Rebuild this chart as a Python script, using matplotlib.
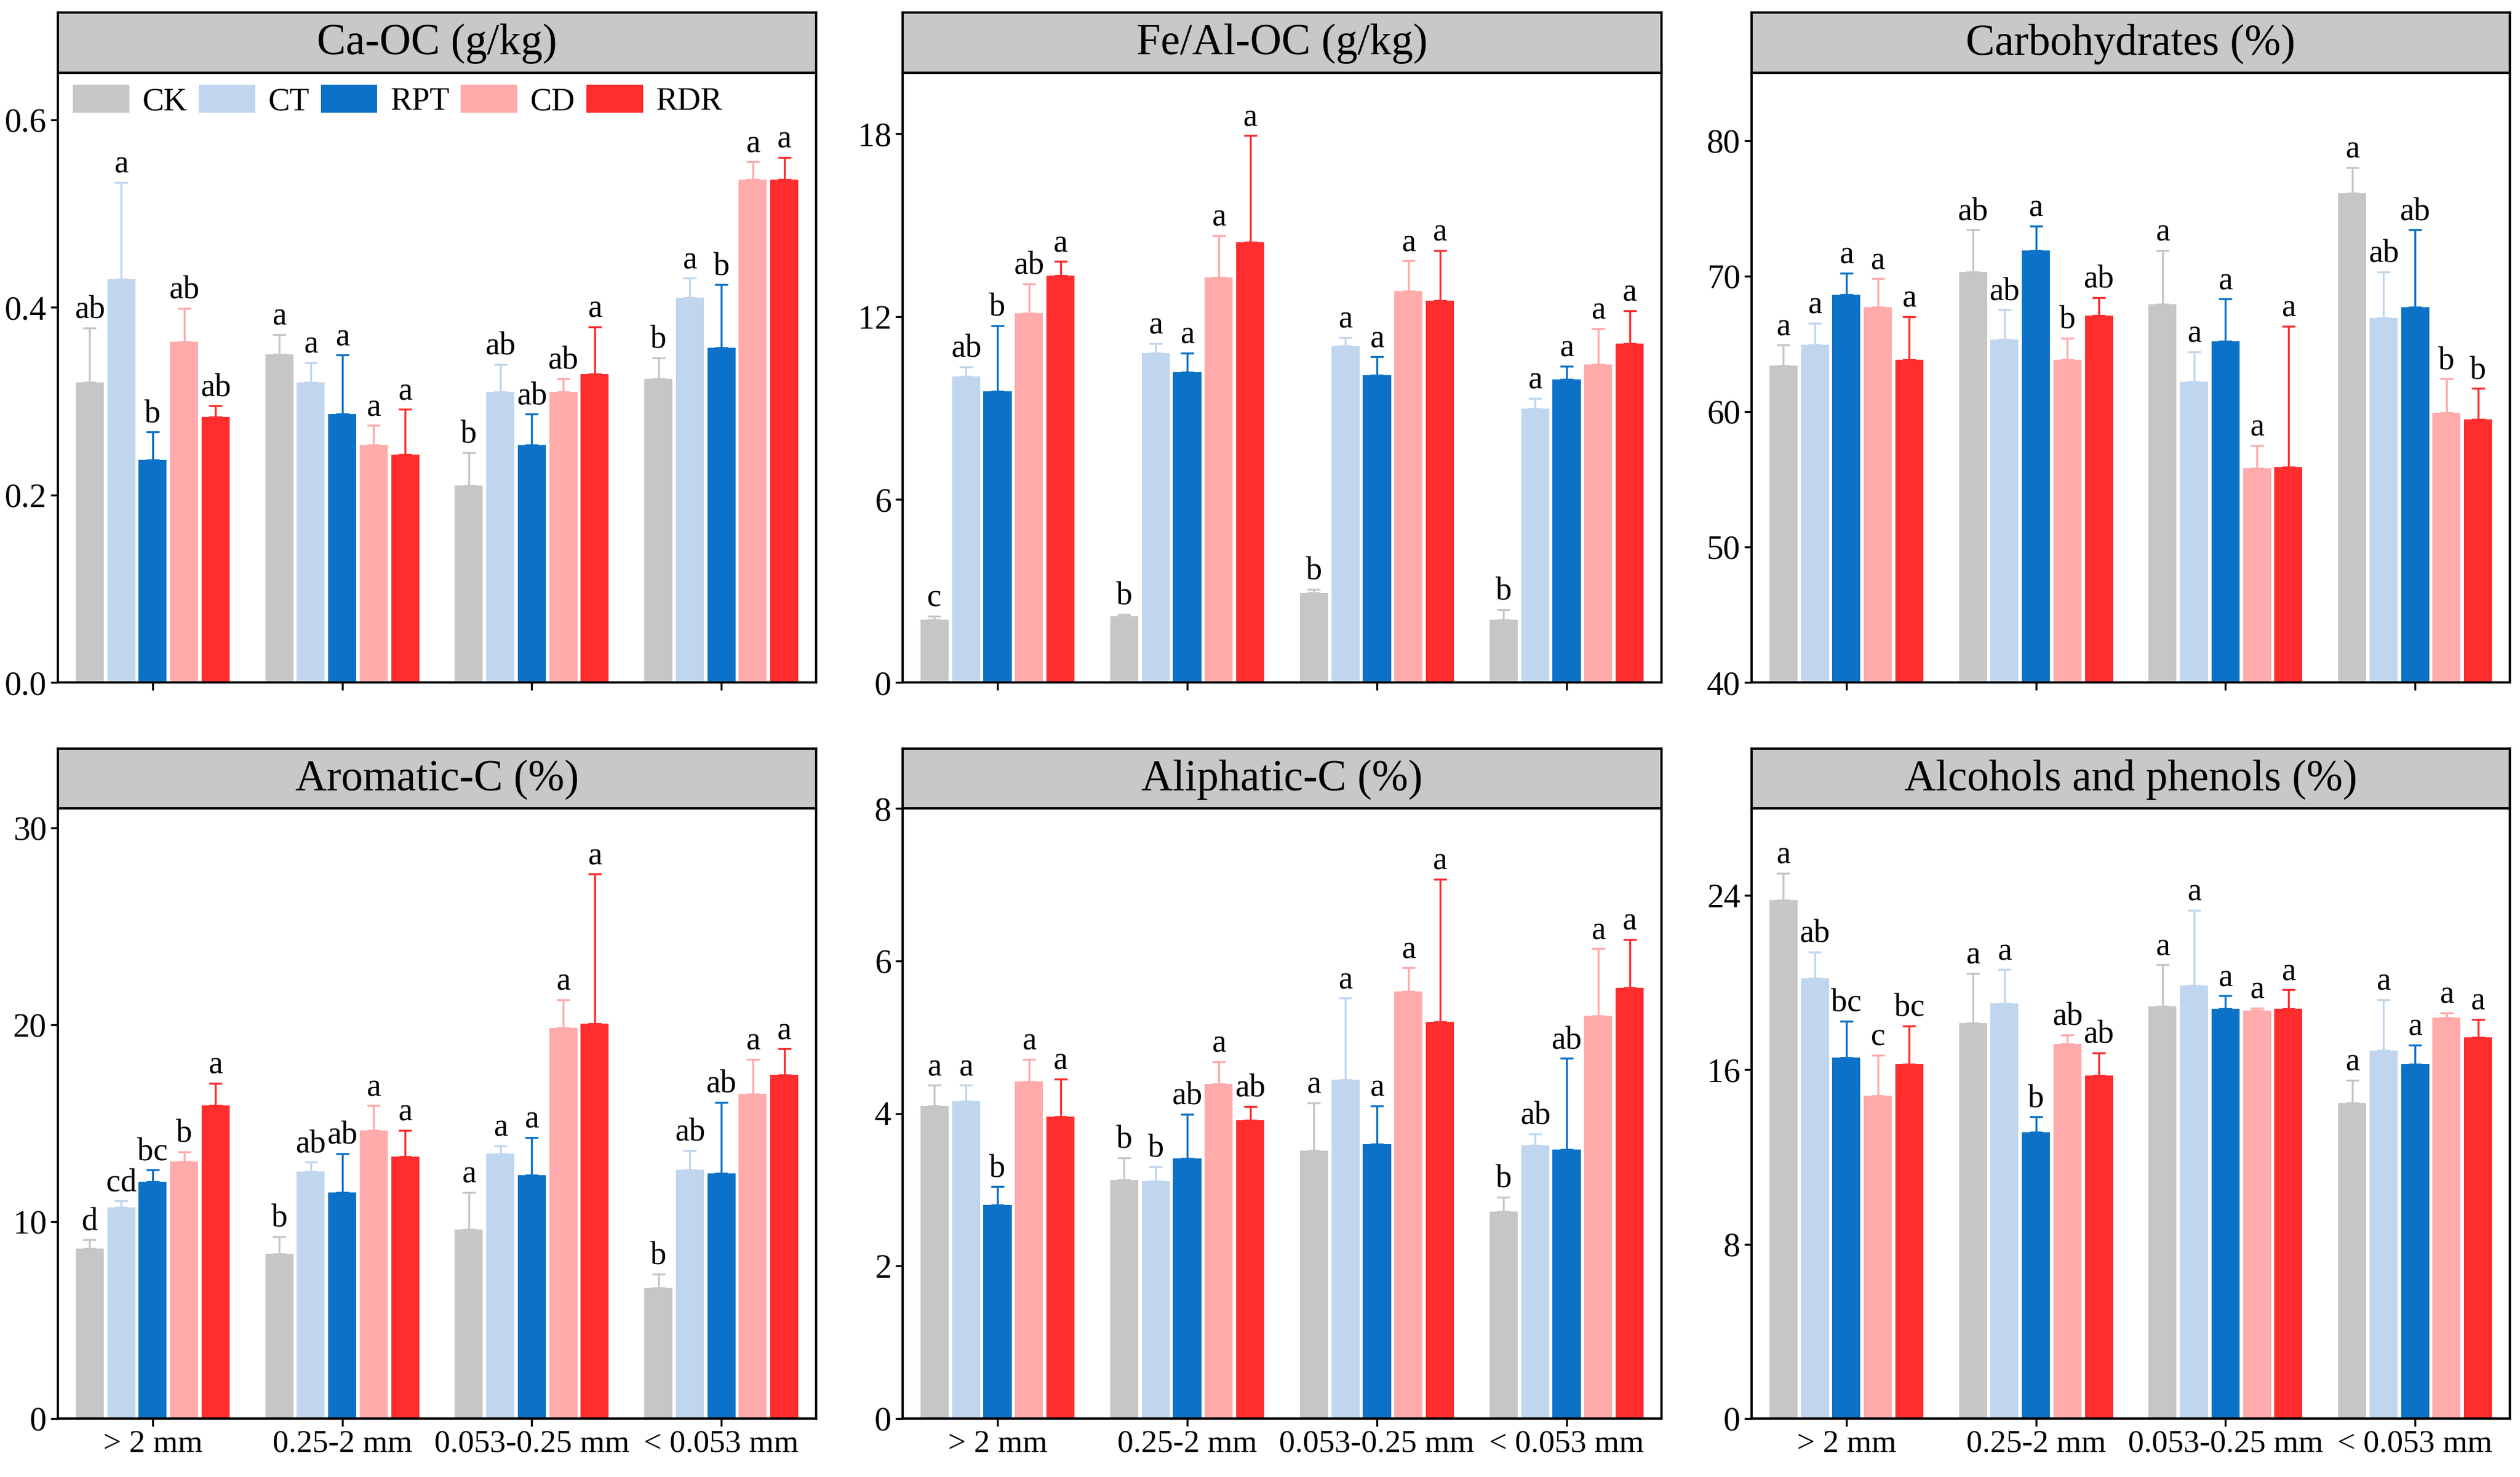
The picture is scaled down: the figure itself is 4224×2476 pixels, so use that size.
import numpy as np
import matplotlib
matplotlib.use("Agg")
import matplotlib.pyplot as plt
from matplotlib.patches import Patch

plt.rcParams['font.family'] = ['Liberation Serif', 'DejaVu Serif']

# data
sizes = ['> 2 mm', '0.25-2 mm', '0.053-0.25 mm', '< 0.053 mm']
treatments = ['CK', 'CT', 'RPT', 'CD', 'RDR']
colors = ['#C6C6C6', '#C0D6EE', '#0B72C8', '#FFABAB', '#FF2D2E']

# each list: rows = size class, columns = treatment (CK, CT, RPT, CD, RDR)
caoc_mean = [[0.320, 0.430, 0.237, 0.363, 0.283],
             [0.350, 0.320, 0.286, 0.253, 0.243],
             [0.210, 0.310, 0.253, 0.310, 0.329],
             [0.324, 0.410, 0.357, 0.536, 0.536]]
caoc_top = [[0.378, 0.533, 0.267, 0.399, 0.295],
            [0.371, 0.341, 0.349, 0.274, 0.291],
            [0.245, 0.339, 0.286, 0.324, 0.379],
            [0.346, 0.431, 0.424, 0.555, 0.560]]
caoc_sig = [['ab', 'a', 'b', 'ab', 'ab'],
            ['a', 'a', 'a', 'a', 'a'],
            ['b', 'ab', 'ab', 'ab', 'a'],
            ['b', 'a', 'b', 'a', 'a']]

feal_mean = [[2.05, 10.03, 9.55, 12.12, 13.35],
             [2.17, 10.80, 10.17, 13.29, 14.45],
             [2.93, 11.04, 10.07, 12.84, 12.52],
             [2.05, 8.98, 9.94, 10.44, 11.12]]
feal_top = [[2.17, 10.35, 11.70, 13.08, 13.81],
            [2.23, 11.12, 10.80, 14.66, 17.94],
            [3.05, 11.31, 10.68, 13.83, 14.17],
            [2.39, 9.32, 10.37, 11.61, 12.19]]
feal_sig = [['c', 'ab', 'b', 'ab', 'a'],
            ['b', 'a', 'a', 'a', 'a'],
            ['b', 'a', 'a', 'a', 'a'],
            ['b', 'a', 'a', 'a', 'a']]

carb_mean = [[63.4, 64.9, 68.6, 67.7, 63.8],
             [70.3, 65.3, 71.9, 63.8, 67.1],
             [67.9, 62.2, 65.2, 55.8, 55.9],
             [76.1, 66.9, 67.7, 59.9, 59.4]]
carb_top = [[64.9, 66.5, 70.2, 69.8, 67.0],
            [73.4, 67.5, 73.7, 65.4, 68.4],
            [71.9, 64.4, 68.3, 57.5, 66.3],
            [78.0, 70.3, 73.4, 62.4, 61.7]]
carb_sig = [['a', 'a', 'a', 'a', 'a'],
            ['ab', 'ab', 'a', 'b', 'ab'],
            ['a', 'a', 'a', 'a', 'a'],
            ['a', 'ab', 'ab', 'b', 'b']]

arom_mean = [[8.64, 10.73, 12.04, 13.07, 15.90],
             [8.37, 12.55, 11.49, 14.64, 13.29],
             [9.62, 13.46, 12.36, 19.86, 20.06],
             [6.65, 12.63, 12.45, 16.49, 17.45]]
arom_top = [[9.08, 11.05, 12.63, 13.56, 17.03],
            [9.25, 13.02, 13.46, 15.90, 14.64],
            [11.49, 13.86, 14.27, 21.27, 27.66],
            [7.33, 13.61, 16.07, 18.24, 18.78]]
arom_sig = [['d', 'cd', 'bc', 'b', 'a'],
            ['b', 'ab', 'ab', 'a', 'a'],
            ['a', 'a', 'a', 'a', 'a'],
            ['b', 'ab', 'ab', 'a', 'a']]

aliph_mean = [[4.10, 4.16, 2.80, 4.42, 3.96],
              [3.13, 3.11, 3.41, 4.39, 3.91],
              [3.51, 4.44, 3.60, 5.60, 5.20],
              [2.71, 3.58, 3.53, 5.28, 5.65]]
aliph_top = [[4.37, 4.37, 3.04, 4.71, 4.45],
             [3.42, 3.30, 3.99, 4.68, 4.09],
             [4.14, 5.51, 4.10, 5.91, 7.07],
             [2.90, 3.73, 4.72, 6.16, 6.28]]
aliph_sig = [['a', 'a', 'b', 'a', 'a'],
             ['b', 'b', 'ab', 'a', 'ab'],
             ['a', 'a', 'a', 'a', 'a'],
             ['b', 'ab', 'ab', 'a', 'a']]

alc_mean = [[23.78, 20.20, 16.56, 14.82, 16.27],
            [18.16, 19.04, 13.13, 17.20, 15.73],
            [18.91, 19.87, 18.80, 18.73, 18.80],
            [14.49, 16.89, 16.27, 18.40, 17.49]]
alc_top = [[25.02, 21.40, 18.24, 16.67, 18.02],
           [20.42, 20.60, 13.84, 17.60, 16.78],
           [20.82, 23.33, 19.40, 18.84, 19.67],
           [15.53, 19.22, 17.13, 18.62, 18.31]]
alc_sig = [['a', 'ab', 'bc', 'c', 'bc'],
           ['a', 'a', 'b', 'ab', 'ab'],
           ['a', 'a', 'a', 'a', 'a'],
           ['a', 'a', 'a', 'a', 'a']]

panels = [
    ('Ca-OC (g/kg)', caoc_mean, caoc_top, caoc_sig, (0, 0.65), [0.0, 0.2, 0.4, 0.6], '{:.1f}'),
    ('Fe/Al-OC (g/kg)', feal_mean, feal_top, feal_sig, (0, 20), [0, 6, 12, 18], '{:.0f}'),
    ('Carbohydrates (%)', carb_mean, carb_top, carb_sig, (40, 85), [40, 50, 60, 70, 80], '{:.0f}'),
    ('Aromatic-C (%)', arom_mean, arom_top, arom_sig, (0, 31), [0, 10, 20, 30], '{:.0f}'),
    ('Aliphatic-C (%)', aliph_mean, aliph_top, aliph_sig, (0, 8), [0, 2, 4, 6, 8], '{:.0f}'),
    ('Alcohols and phenols (%)', alc_mean, alc_top, alc_sig, (0, 28), [0, 8, 16, 24], '{:.0f}'),
]

W, H = 4224, 2476
fig = plt.figure(figsize=(W / 300, H / 300), dpi=300)

col_px = [(97, 1368), (1513, 2785), (2936, 4207)]
row_px = [(21, 122, 1144), (1255, 1355, 2378)]

step = 0.166
bw = 0.148
x = np.arange(len(sizes))

for k, (title, mean, top, sig, ylim, yt, fmt) in enumerate(panels):
    r, c = divmod(k, 3)
    l, rr = col_px[c]
    st, at, ab = row_px[r]
    ax = fig.add_axes([l / W, 1 - ab / H, (rr - l) / W, (ab - at) / H])
    sax = fig.add_axes([l / W, 1 - at / H, (rr - l) / W, (at - st) / H])

    m = np.array(mean)
    t = np.array(top)
    for j in range(len(treatments)):
        xs = x + (j - 2) * step
        ax.bar(xs, m[:, j] - ylim[0], bottom=ylim[0], width=bw, color=colors[j], zorder=2)
        up = t[:, j] - m[:, j]
        ax.errorbar(xs, m[:, j], yerr=[np.zeros_like(up), up], fmt='none',
                    ecolor=colors[j], elinewidth=0.8, capsize=2.6, capthick=0.8, zorder=1)
        for i in range(len(sizes)):
            ax.annotate(sig[i][j], (xs[i], t[i, j]), xytext=(0, 1.0),
                        textcoords='offset points', ha='center', va='bottom', fontsize=13)

    ax.set_xlim(-0.5, 3.5)
    ax.set_ylim(*ylim)
    ax.set_yticks(yt)
    ax.set_yticklabels([fmt.format(v) for v in yt])
    ax.set_xticks(x)
    if r == 1:
        ax.set_xticklabels(sizes)
    else:
        ax.set_xticklabels([])
    ax.tick_params(direction='out', length=3, width=0.8, labelsize=13.5, pad=1.5, colors='black')
    ax.tick_params(axis='x', labelsize=12.8)
    for s in ax.spines.values():
        s.set_linewidth(0.9)

    sax.set_facecolor('#C8C8C8')
    sax.set_xticks([])
    sax.set_yticks([])
    for s in sax.spines.values():
        s.set_linewidth(0.9)
    sax.text(0.5, 0.48, title, ha='center', va='center', fontsize=17.5, transform=sax.transAxes)

    if k == 0:
        handles = [Patch(facecolor=colors[j], label=treatments[j]) for j in range(len(treatments))]
        ax.legend(handles=handles, loc='upper left', bbox_to_anchor=(0.02, 0.98), ncol=5,
                  frameon=False, fontsize=13, handlelength=1.75, handleheight=0.95,
                  handletextpad=0.4, columnspacing=0.35, borderaxespad=0, borderpad=0)

fig.savefig('out.png', dpi=300)
